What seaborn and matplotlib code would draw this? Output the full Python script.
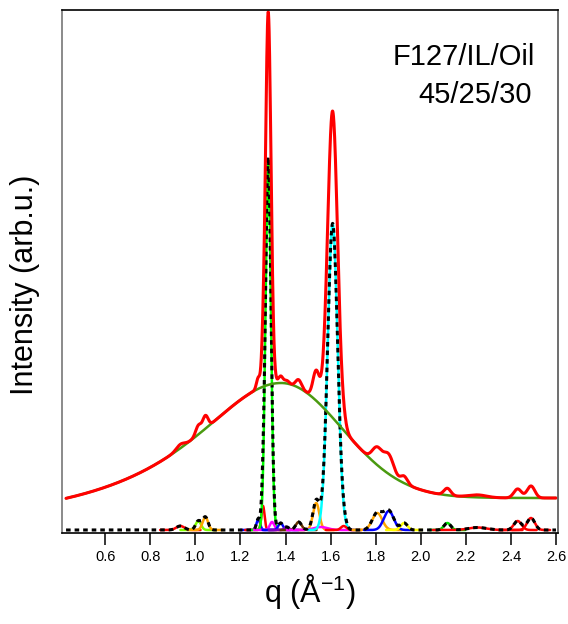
import numpy as np
import pandas as pd
import matplotlib
matplotlib.use("Agg")
import matplotlib.pyplot as plt
import seaborn as sns

# ---------------- data ----------------
# fitted Gaussian components: centre q (1/Å), height (arb.u.), sigma (1/Å), colour
peak_centers = [0.933, 1.013, 1.044, 1.279, 1.300, 1.323, 1.340, 1.378, 1.405,
                1.458, 1.536, 1.556, 1.609, 1.658, 1.807, 1.858, 1.926, 2.118,
                2.252, 2.430, 2.489]
peak_heights = [4, 9, 13, 11, 24, 371, 8, 7, 3,
                8, 27, 3, 306, 4, 17, 19, 7, 7,
                2.5, 9, 12]
peak_sigmas = [0.018, 0.012, 0.012, 0.008, 0.007, 0.012, 0.010, 0.010, 0.010,
               0.013, 0.014, 0.030, 0.022, 0.012, 0.022, 0.022, 0.015, 0.015,
               0.040, 0.017, 0.017]
peak_colors = ["#ff0000", "#80ff00", "#ffa500", "#0000ff", "#ff0000", "#00ff00",
               "#ff00ff", "#0000ff", "#8000c0", "#663300", "#ffa500", "#ff00ff",
               "#00ffff", "#ff0000", "#ffa500", "#0000ff", "#ffff00", "#00e000",
               "#ff0000", "#ff0000", "#ff0000"]

# broad background: asymmetric (Lorentzian left, Gaussian + floor right)
bg_center = 1.38
bg_peak = 147
bg_left_hwhm = 0.50
bg_right_sigma = 0.27
bg_right_floor = 32

q_start, q_end = 0.426, 2.600
x_ticks = [0.6, 0.8, 1.0, 1.2, 1.4, 1.6, 1.8, 2.0, 2.2, 2.4, 2.6]
x_tick_labels = ["0.6", "0.8", "1.0", "1.2", "1.4", "1.6", "1.8", "2.0", "2.2", "2.4", "2.6"]
sample_line1 = "F127/IL/Oil"
sample_line2 = "45/25/30"

# ---------------- curves ----------------
q = np.linspace(q_start, q_end, 3000)


def gauss(x, c, h, s):
    return h * np.exp(-(x - c) ** 2 / (2 * s ** 2))


def background(x):
    left = bg_peak / (1 + ((x - bg_center) / bg_left_hwhm) ** 2)
    right = bg_right_floor + (bg_peak - bg_right_floor) * np.exp(
        -(x - bg_center) ** 2 / (2 * bg_right_sigma ** 2))
    return np.where(x < bg_center, left, right)


peak_sum = np.zeros_like(q)
for c, h, s in zip(peak_centers, peak_heights, peak_sigmas):
    peak_sum += gauss(q, c, h, s)
bg = background(q)
total = bg + peak_sum

df = pd.DataFrame({"q": q, "bg": bg, "total": total, "fit": peak_sum})

# ---------------- figure ----------------
sns.set_theme(style="white")
plt.rcParams["font.family"] = ["Liberation Sans", "DejaVu Sans"]
plt.rcParams["mathtext.fontset"] = "custom"
plt.rcParams["mathtext.rm"] = "Liberation Sans"
plt.rcParams["mathtext.it"] = "Liberation Sans"
plt.rcParams["text.color"] = "black"
plt.rcParams["axes.labelcolor"] = "black"
plt.rcParams["xtick.color"] = "black"
plt.rcParams["xtick.labelcolor"] = "black"

fig = plt.figure(figsize=(5.68, 6.24), dpi=100)
ax = fig.add_axes([62 / 568, 1 - 533 / 624, 496 / 568, 523 / 624])

# individual components
for c, h, s, col in zip(peak_centers, peak_heights, peak_sigmas, peak_colors):
    half = max(5 * s, 0.08)
    qq = q[(q > c - half) & (q < c + half)]
    sns.lineplot(x=qq, y=gauss(qq, c, h, s), ax=ax, color=col, lw=1.8,
                 estimator=None, sort=False)

# sum of fitted peaks (dashed black)
sns.lineplot(data=df, x="q", y="fit", ax=ax, color="black", lw=2.2,
             dashes=False, estimator=None, sort=False).lines[-1].set_dashes([1.5, 1.3])

# background and total
sns.lineplot(data=df, x="q", y="bg", ax=ax, color="#4a9a10", lw=1.8,
             estimator=None, sort=False)
sns.lineplot(data=df, x="q", y="total", ax=ax, color="#ff0000", lw=2.2,
             estimator=None, sort=False)

ax.set_xlim(0.408, 2.609)
ax.set_ylim(-3, 520)
ax.set_yticks([])
ax.set_xticks(x_ticks)
ax.set_xticklabels(x_tick_labels, fontsize=10.5, color="black")
ax.tick_params(axis="x", direction="out", length=8.6, width=1.1, pad=3.5,
               bottom=True, colors="black")
ax.grid(False)

for side, col in [("left", "#777777"), ("right", "#555555"),
                  ("top", "black"), ("bottom", "black")]:
    ax.spines[side].set_color(col)
    ax.spines[side].set_linewidth(1.2)
    ax.spines[side].set_visible(True)

ax.set_xlabel("q (Å$^{-1}$)", fontsize=22, labelpad=6, color="black")
ax.set_ylabel("Intensity (arb.u.)", fontsize=22, color="black")
ax.yaxis.set_label_coords(-0.044, 0.474)

ax.text(0.667, 0.895, sample_line1, transform=ax.transAxes, fontsize=21,
        ha="left", va="baseline", color="black")
ax.text(0.718, 0.822, sample_line2, transform=ax.transAxes, fontsize=21,
        ha="left", va="baseline", color="black")

fig.savefig("out.png", dpi=100)
